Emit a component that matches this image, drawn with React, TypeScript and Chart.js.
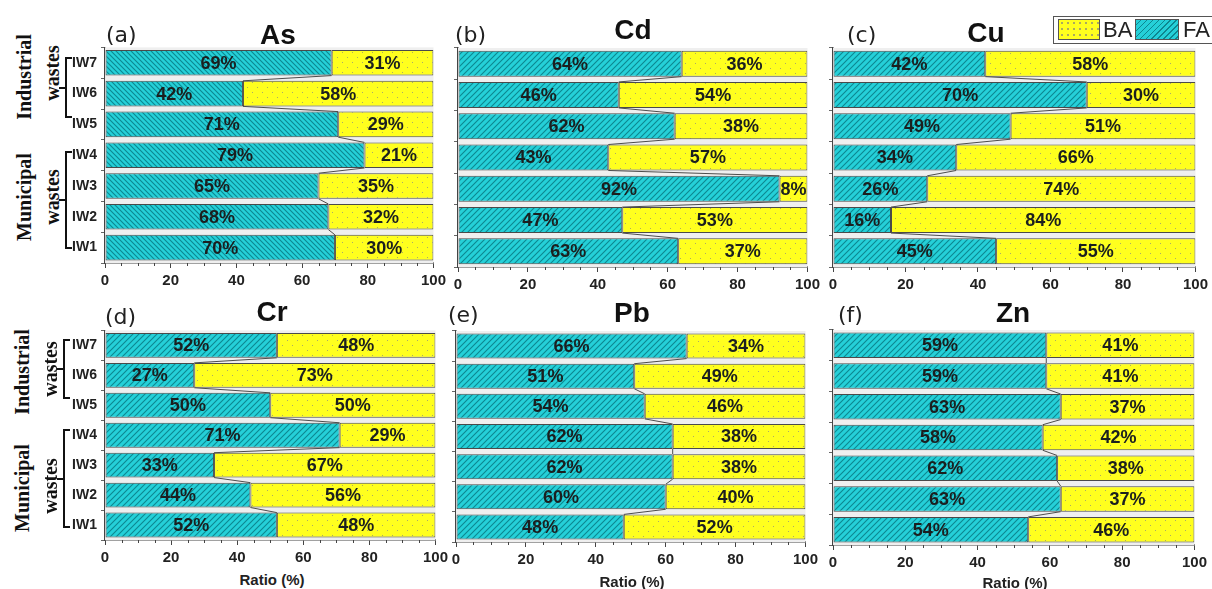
import React, { useEffect, useRef } from 'react';
import { Chart, registerables } from 'chart.js';
Chart.register(...registerables);

const categories = ['IW1', 'IW2', 'IW3', 'IW4', 'IW5', 'IW6', 'IW7'];
const seriesNames = ['FA', 'BA'];
const tickStep = 20;
const axisMin = 0;
const axisMax = 100;

const asFA = [70, 68, 65, 79, 71, 42, 69];
const asBA = [30, 32, 35, 21, 29, 58, 31];
const cdFA = [63, 47, 92, 43, 62, 46, 64];
const cdBA = [37, 53, 8, 57, 38, 54, 36];
const cuFA = [45, 16, 26, 34, 49, 70, 42];
const cuBA = [55, 84, 74, 66, 51, 30, 58];
const crFA = [52, 44, 33, 71, 50, 27, 52];
const crBA = [48, 56, 67, 29, 50, 73, 48];
const pbFA = [48, 60, 62, 62, 54, 51, 66];
const pbBA = [52, 40, 38, 38, 46, 49, 34];
const znFA = [54, 63, 62, 58, 63, 59, 59];
const znBA = [46, 37, 38, 42, 37, 41, 41];

const elementNames = ['As', 'Cd', 'Cu', 'Cr', 'Pb', 'Zn'];
const panelLetters = ['(a)', '(b)', '(c)', '(d)', '(e)', '(f)'];
const groupNames = ['Industrial', 'Municipal'];
const groupWord = 'wastes';
const axisTitle = 'Ratio (%)';

const SANS = '"Liberation Sans", Arial, sans-serif';
const SERIF = '"Liberation Serif", "Times New Roman", serif';
const CYAN = '#25d0d8';
const CYAN_LINE = '#0d8790';
const YELLOW = '#ffff1e';

function makeHatch(dir: 'fwd' | 'back') {
  const s = dir === 'back' ? 5 : 6;
  const c = document.createElement('canvas');
  c.width = s; c.height = s;
  const g = c.getContext('2d')!;
  g.fillStyle = CYAN; g.fillRect(0, 0, s, s);
  g.strokeStyle = CYAN_LINE; g.lineWidth = 1.1;
  g.beginPath();
  if (dir === 'fwd') {
    g.moveTo(-1, s + 1); g.lineTo(s + 1, -1);
    g.moveTo(-1, 1); g.lineTo(1, -1);
    g.moveTo(s - 1, s + 1); g.lineTo(s + 1, s - 1);
  } else {
    g.moveTo(-1, -1); g.lineTo(s + 1, s + 1);
    g.moveTo(s - 1, -1); g.lineTo(s + 1, 1);
    g.moveTo(-1, s - 1); g.lineTo(1, s + 1);
  }
  g.stroke();
  return g.createPattern(c, 'repeat')!;
}

function makeDots() {
  const s = 10;
  const c = document.createElement('canvas');
  c.width = s; c.height = s;
  const g = c.getContext('2d')!;
  g.fillStyle = YELLOW; g.fillRect(0, 0, s, s);
  g.fillStyle = '#aaaa66';
  g.fillRect(2, 2, 1, 1);
  g.fillRect(7, 7, 1, 1);
  return g.createPattern(c, 'repeat')!;
}

type PanelProps = {
  fa: number[]; ba: number[];
  L: number; T: number; R: number; B: number;
  showLabels: boolean; hatch: 'fwd' | 'back';
};

const PAD_TOP = 12;
const X_H = 26;

function Panel(p: PanelProps) {
  const ref = useRef<HTMLCanvasElement>(null);
  const yw = p.showLabels ? 40 : 10;
  const padRight = 13;
  const left = p.L - yw;
  const top = p.T - PAD_TOP;
  const width = p.R - left + padRight;
  const height = p.B - top + X_H;

  useEffect(() => {
    const canvas = ref.current!;
    const bgPlugin = {
      id: 'bgfill',
      beforeDatasetsDraw(chart: any) {
        const { ctx, chartArea: a } = chart;
        ctx.save();
        ctx.fillStyle = '#efefef';
        ctx.fillRect(a.left, a.top, a.right - a.left, a.bottom - a.top);
        ctx.restore();
      },
    };
    const connectPlugin = {
      id: 'connect',
      afterDatasetsDraw(chart: any) {
        const meta = chart.getDatasetMeta(0);
        const ctx = chart.ctx;
        ctx.save();
        ctx.strokeStyle = '#4d4d4d';
        ctx.lineWidth = 1;
        ctx.beginPath();
        for (let i = 0; i < meta.data.length - 1; i++) {
          const a = meta.data[i].getProps(['x', 'y', 'height'], true);
          const b = meta.data[i + 1].getProps(['x', 'y', 'height'], true);
          ctx.moveTo(a.x, a.y - a.height / 2);
          ctx.lineTo(b.x, b.y + b.height / 2);
        }
        ctx.stroke();
        ctx.restore();
      },
    };
    const labelPlugin = {
      id: 'seglabels',
      afterDatasetsDraw(chart: any) {
        const ctx = chart.ctx;
        ctx.save();
        ctx.font = `bold 18px ${SANS}`;
        ctx.fillStyle = '#1b1f1f';
        ctx.textAlign = 'center';
        ctx.textBaseline = 'middle';
        chart.data.datasets.forEach((ds: any, di: number) => {
          const meta = chart.getDatasetMeta(di);
          meta.data.forEach((el: any, j: number) => {
            const pr = el.getProps(['x', 'y', 'base'], true);
            ctx.fillText(ds.data[j] + '%', (pr.x + pr.base) / 2, pr.y + 1);
          });
        });
        ctx.restore();
      },
    };
    const minorPlugin = {
      id: 'minorticks',
      afterDraw(chart: any) {
        const xs = chart.scales.x;
        const ctx = chart.ctx;
        const y0 = chart.chartArea.bottom;
        ctx.save();
        ctx.strokeStyle = '#444';
        ctx.lineWidth = 1;
        ctx.beginPath();
        for (let v = axisMin + 5; v < axisMax; v += 5) {
          if (v % tickStep === 0) continue;
          const px = Math.round(xs.getPixelForValue(v)) + 0.5;
          ctx.moveTo(px, y0);
          ctx.lineTo(px, y0 + 3);
        }
        ctx.stroke();
        ctx.restore();
      },
    };
    const chart = new Chart(canvas, {
      type: 'bar',
      data: {
        labels: categories,
        datasets: [
          {
            label: seriesNames[0], data: p.fa, backgroundColor: makeHatch(p.hatch) as any,
            borderColor: '#4a4a4a', borderWidth: 1, borderSkipped: false,
            categoryPercentage: 1, barPercentage: 0.83,
          },
          {
            label: seriesNames[1], data: p.ba, backgroundColor: makeDots() as any,
            borderColor: '#4a4a4a', borderWidth: 1, borderSkipped: false,
            categoryPercentage: 1, barPercentage: 0.83,
          },
        ],
      },
      options: {
        indexAxis: 'y',
        responsive: false,
        animation: false,
        devicePixelRatio: 1,
        layout: { padding: { top: PAD_TOP, right: padRight, left: 0, bottom: 0 } },
        plugins: { legend: { display: false }, title: { display: false }, tooltip: { enabled: false } },
        scales: {
          x: {
            type: 'linear', stacked: true, min: axisMin, max: axisMax,
            afterFit: (s: any) => { s.height = X_H; },
            ticks: { stepSize: tickStep, font: { family: SANS, size: 15, weight: 'bold' }, color: '#222', padding: 4, maxRotation: 0, autoSkip: false },
            grid: { drawOnChartArea: false, drawTicks: true, tickLength: 5, color: '#444' },
            border: { display: true, color: '#444', width: 1.5 },
          },
          y: {
            type: 'category', stacked: true, reverse: true,
            afterFit: (s: any) => { s.width = yw; },
            ticks: { display: p.showLabels, font: { family: SANS, size: 14, weight: 'bold' }, color: '#222', padding: 4 },
            grid: { drawOnChartArea: false, tickLength: 4, color: '#666', offset: true },
            border: { display: true, color: '#444', width: 1.5 },
          },
        },
      } as any,
      plugins: [bgPlugin, connectPlugin, labelPlugin, minorPlugin],
    });
    return () => chart.destroy();
  }, []);

  return (
    <canvas
      ref={ref}
      width={width}
      height={height}
      style={{ position: 'absolute', left, top, width, height }}
    />
  );
}

const panels: PanelProps[] = [
  { fa: asFA, ba: asBA, L: 105, T: 47, R: 437, B: 263, showLabels: true, hatch: 'back' },
  { fa: cdFA, ba: cdBA, L: 458, T: 48, R: 811, B: 267, showLabels: false, hatch: 'fwd' },
  { fa: cuFA, ba: cuBA, L: 833, T: 48, R: 1199, B: 267, showLabels: false, hatch: 'fwd' },
  { fa: crFA, ba: crBA, L: 105, T: 330, R: 439, B: 540, showLabels: true, hatch: 'fwd' },
  { fa: pbFA, ba: pbBA, L: 456, T: 331, R: 809, B: 542, showLabels: false, hatch: 'fwd' },
  { fa: znFA, ba: znBA, L: 833, T: 330, R: 1198, B: 545, showLabels: false, hatch: 'fwd' },
];

const titlePos = [
  { cx: 278, base: 45 }, { cx: 633, base: 40 }, { cx: 986, base: 43 },
  { cx: 272, base: 322 }, { cx: 632, base: 323 }, { cx: 1013, base: 323 },
];
const letterPos = [
  { x: 106, base: 43 }, { x: 455, base: 43 }, { x: 847, base: 43 },
  { x: 105, base: 325 }, { x: 448, base: 323 }, { x: 838, base: 323 },
];
const ratioPos = [
  { cx: 272, cy: 580 }, { cx: 632, cy: 582 }, { cx: 1015, cy: 583 },
];

const groupRows = [
  {
    ind: { cx: 24, cy: 77 }, indW: { cx: 52, cy: 73 }, indB: { top: 57, bottom: 118 },
    mun: { cx: 24, cy: 197 }, munW: { cx: 52, cy: 197 }, munB: { top: 151, bottom: 249 },
    bx: 65,
  },
  {
    ind: { cx: 22, cy: 372 }, indW: { cx: 50, cy: 369 }, indB: { top: 339, bottom: 399 },
    mun: { cx: 22, cy: 488 }, munW: { cx: 50, cy: 486 }, munB: { top: 429, bottom: 528 },
    bx: 63,
  },
];

function Rot({ cx, cy, text }: { cx: number; cy: number; text: string }) {
  return (
    <div style={{
      position: 'absolute', left: cx, top: cy, transform: 'translate(-50%, -50%) rotate(-90deg)',
      font: `bold 20px ${SERIF}`, whiteSpace: 'nowrap', color: '#111', lineHeight: '20px',
    }}>{text}</div>
  );
}

function Bracket({ x, top, bottom }: { x: number; top: number; bottom: number }) {
  const mid = (top + bottom) / 2;
  return (
    <>
      <div style={{
        position: 'absolute', left: x, top, width: 7, height: bottom - top,
        borderLeft: '2px solid #111', borderTop: '2px solid #111', borderBottom: '2px solid #111', boxSizing: 'border-box',
      }} />
      <div style={{ position: 'absolute', left: x - 6, top: mid - 1, width: 7, height: 2, background: '#111' }} />
    </>
  );
}

export default function App() {
  return (
    <div style={{ position: 'absolute', left: 0, top: 0, width: 1212, height: 589, background: '#fff', overflow: 'hidden' }}>
      {panels.map((p, i) => <Panel key={i} {...p} />)}
      {elementNames.map((t, i) => (
        <div key={'t' + i} style={{
          position: 'absolute', left: titlePos[i].cx - 60, width: 120, textAlign: 'center',
          top: titlePos[i].base - 24, font: `bold 28px ${SANS}`, lineHeight: '28px', color: '#111',
        }}>{t}</div>
      ))}
      {panelLetters.map((t, i) => (
        <div key={'l' + i} style={{
          position: 'absolute', left: letterPos[i].x, top: letterPos[i].base - 18.6,
          font: `22px "DejaVu Sans", Verdana, sans-serif`, lineHeight: '22px', color: '#222',
        }}>{t}</div>
      ))}
      {ratioPos.map((r, i) => (
        <div key={'r' + i} style={{
          position: 'absolute', left: r.cx - 60, width: 120, textAlign: 'center', top: r.cy - 8,
          font: `bold 15px ${SANS}`, lineHeight: '16px', color: '#222',
        }}>{axisTitle}</div>
      ))}
      {groupRows.map((g, i) => (
        <React.Fragment key={'g' + i}>
          <Rot cx={g.ind.cx} cy={g.ind.cy} text={groupNames[0]} />
          <Rot cx={g.indW.cx} cy={g.indW.cy} text={groupWord} />
          <Rot cx={g.mun.cx} cy={g.mun.cy} text={groupNames[1]} />
          <Rot cx={g.munW.cx} cy={g.munW.cy} text={groupWord} />
          <Bracket x={g.bx} top={g.indB.top} bottom={g.indB.bottom} />
          <Bracket x={g.bx} top={g.munB.top} bottom={g.munB.bottom} />
        </React.Fragment>
      ))}
      <div style={{
        position: 'absolute', left: 1053, top: 16, width: 170, height: 28, boxSizing: 'border-box',
        border: '1.5px solid #555', background: '#fff',
      }}>
        <div style={{
          position: 'absolute', left: 4, top: 2, width: 42, height: 21, boxSizing: 'border-box', border: '1px solid #555',
          backgroundColor: YELLOW,
          backgroundImage: 'radial-gradient(circle, #a8a860 0.7px, transparent 1px)', backgroundSize: '6px 6px',
        }} />
        <div style={{ position: 'absolute', left: 49, top: 1, font: `22px ${SANS}`, lineHeight: '24px', color: '#222' }}>{seriesNames[1]}</div>
        <div style={{
          position: 'absolute', left: 81, top: 2, width: 44, height: 21, boxSizing: 'border-box', border: '1px solid #555',
          backgroundColor: CYAN,
          backgroundImage: `repeating-linear-gradient(135deg, ${CYAN} 0px, ${CYAN} 3px, ${CYAN_LINE} 3px, ${CYAN_LINE} 4.2px)`,
        }} />
        <div style={{ position: 'absolute', left: 129, top: 1, font: `22px ${SANS}`, lineHeight: '24px', color: '#222' }}>{seriesNames[0]}</div>
      </div>
    </div>
  );
}
